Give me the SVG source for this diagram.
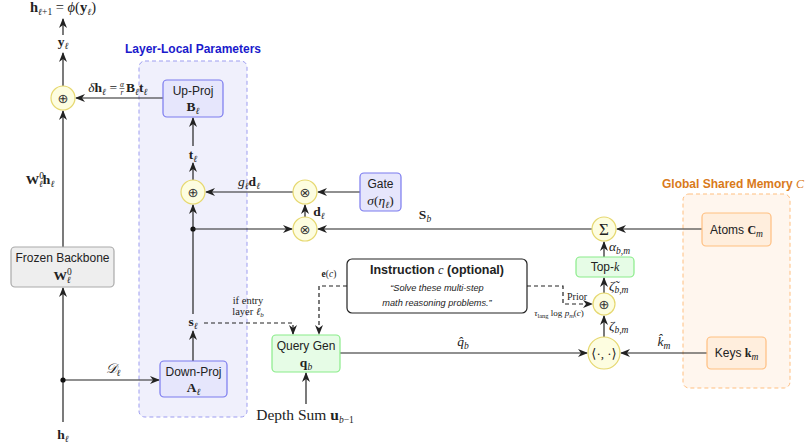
<svg xmlns="http://www.w3.org/2000/svg" width="809" height="446" viewBox="0 0 809 446">
<style>
.sans{font-family:"Liberation Sans","DejaVu Sans",sans-serif;font-size:12px;fill:#222}
.math{font-family:"Liberation Serif","DejaVu Serif",serif;font-size:13.5px;fill:#222}
.s{font-size:9.5px}
.b{font-weight:bold}
.i{font-style:italic}
.ln{stroke:#222;stroke-width:1.2;fill:none}
.dash{stroke:#222;stroke-width:1.2;fill:none;stroke-dasharray:4,3}
.blue{fill:#e6e6fc;stroke:#7a7aee;stroke-width:1.2}
.green{fill:#e6fce6;stroke:#8aec8a;stroke-width:1.2}
.orange{fill:#ffeedd;stroke:#ffbf80;stroke-width:1.2}
.gray{fill:#eeeeee;stroke:#aaaaaa;stroke-width:1.2}
.op{fill:#fdfde0;stroke:#e6d870;stroke-width:1.2}
.sym{font-family:"DejaVu Sans",sans-serif;font-size:13px;fill:#333}
</style>
<defs>
<marker id="ar" viewBox="0 0 10 8" refX="9" refY="4" markerWidth="10" markerHeight="8" markerUnits="userSpaceOnUse" orient="auto">
<path d="M0,0 L10,4 L0,8 L3,4 z" fill="#222"/>
</marker>
</defs>

<!-- panels -->
<g id="panel-local">
<rect x="139" y="61" width="108" height="356" rx="6" fill="#f0f0fc" stroke="#9d9df0" stroke-width="1" stroke-dasharray="4,3"/>
<text x="193" y="53" text-anchor="middle" class="sans b" style="fill:#1a1acc">Layer-Local Parameters</text>
</g>
<g id="panel-global">
<rect x="683" y="194" width="107" height="194" rx="6" fill="#fff6ee" stroke="#ffbf80" stroke-width="1" stroke-dasharray="4,3"/>
<text x="662" y="188" class="sans b" style="fill:#d97a1a">Global Shared Memory <tspan class="i" style="font-weight:normal;font-family:'Liberation Serif',serif">C</tspan></text>
</g>

<!-- connectors -->
<g id="connectors">
<line x1="63" y1="422" x2="63" y2="380" class="ln"/>
<line x1="63" y1="380" x2="63" y2="288" class="ln" marker-end="url(#ar)"/>
<line x1="63" y1="247" x2="63" y2="111" class="ln" marker-end="url(#ar)"/>
<line x1="63" y1="86" x2="63" y2="53" class="ln" marker-end="url(#ar)"/>
<line x1="63" y1="35" x2="63" y2="19" class="ln" marker-end="url(#ar)"/>
<line x1="63" y1="380" x2="159" y2="380" class="ln" marker-end="url(#ar)"/>
<circle cx="63" cy="380" r="2.6" fill="#111"/>
<line x1="163" y1="98" x2="76" y2="98" class="ln" marker-end="url(#ar)"/>
<line x1="193" y1="361" x2="193" y2="331" class="ln" marker-end="url(#ar)"/>
<line x1="193" y1="314" x2="193" y2="205" class="ln" marker-end="url(#ar)"/>
<line x1="193" y1="180" x2="193" y2="163" class="ln" marker-end="url(#ar)"/>
<line x1="193" y1="146" x2="193" y2="118" class="ln" marker-end="url(#ar)"/>
<circle cx="193" cy="229" r="2.6" fill="#111"/>
<line x1="193" y1="229" x2="292" y2="229" class="ln" marker-end="url(#ar)"/>
<line x1="293" y1="192" x2="206" y2="192" class="ln" marker-end="url(#ar)"/>
<line x1="360" y1="192" x2="318" y2="192" class="ln" marker-end="url(#ar)"/>
<line x1="305" y1="217" x2="305" y2="205" class="ln" marker-end="url(#ar)"/>
<line x1="592" y1="229" x2="318" y2="229" class="ln" marker-end="url(#ar)"/>
<line x1="702" y1="229" x2="617" y2="229" class="ln" marker-end="url(#ar)"/>
<line x1="604" y1="257" x2="604" y2="242" class="ln" marker-end="url(#ar)"/>
<line x1="604" y1="293" x2="604" y2="278" class="ln" marker-end="url(#ar)"/>
<line x1="604" y1="337" x2="604" y2="316" class="ln" marker-end="url(#ar)"/>
<line x1="707" y1="353" x2="621" y2="353" class="ln" marker-end="url(#ar)"/>
<line x1="340" y1="353" x2="587" y2="353" class="ln" marker-end="url(#ar)"/>
<line x1="306" y1="404" x2="306" y2="373" class="ln" marker-end="url(#ar)"/>
<polyline points="204,323 293,323 293,334" class="dash" marker-end="url(#ar)"/>
<polyline points="347,286 319,286 319,334" class="dash" marker-end="url(#ar)"/>
<polyline points="527,286 563,286 563,304 592,304" class="dash" marker-end="url(#ar)"/>
</g>

<!-- labels -->
<g id="labels">
<text x="63" y="12" text-anchor="middle" class="math" style="font-size:14.5px"><tspan class="b">h</tspan><tspan class="s i" dy="3">ℓ</tspan><tspan class="s">+1</tspan><tspan dy="-3"> = </tspan><tspan class="i">ϕ</tspan>(<tspan class="b">y</tspan><tspan class="s i" dy="3">ℓ</tspan><tspan dy="-3">)</tspan></text>
<text x="63" y="46" text-anchor="middle" class="math"><tspan class="b">y</tspan><tspan class="s i" dy="3">ℓ</tspan></text>
<text x="117" y="92" text-anchor="end" class="math"><tspan class="i">δ</tspan><tspan class="b">h</tspan><tspan class="s i" dy="3">ℓ</tspan><tspan dy="-3"> =</tspan></text>
<text x="122" y="86.5" text-anchor="middle" class="math i" style="font-size:7.5px">α</text>
<line x1="119.5" y1="88.5" x2="124.5" y2="88.5" stroke="#222" stroke-width="0.6"/>
<text x="122" y="95" text-anchor="middle" class="math i" style="font-size:7.5px">r</text>
<text x="126" y="92" class="math"><tspan class="b">B</tspan><tspan class="s i" dy="3">ℓ</tspan><tspan dy="-3" class="b">t</tspan><tspan class="s i" dy="3">ℓ</tspan></text>
<text x="40" y="184" text-anchor="middle" class="math"><tspan class="b">W</tspan><tspan class="s" dy="-5">0</tspan><tspan class="s i" dx="-5" dy="8">ℓ</tspan><tspan dy="-3" class="b">h</tspan><tspan class="s i" dy="3">ℓ</tspan></text>
<text x="193" y="159" text-anchor="middle" class="math"><tspan class="b">t</tspan><tspan class="s i" dy="3">ℓ</tspan></text>
<text x="249" y="186" text-anchor="middle" class="math"><tspan class="i">g</tspan><tspan class="s i" dy="3">ℓ</tspan><tspan dy="-3" class="b">d</tspan><tspan class="s i" dy="3">ℓ</tspan></text>
<text x="319" y="216" text-anchor="middle" class="math"><tspan class="b">d</tspan><tspan class="s i" dy="3">ℓ</tspan></text>
<text x="425" y="219" text-anchor="middle" class="math"><tspan class="b">S</tspan><tspan class="s i" dy="3">b</tspan></text>
<text x="193" y="326" text-anchor="middle" class="math"><tspan class="b">s</tspan><tspan class="s i" dy="3">ℓ</tspan></text>
<text x="248" y="304" text-anchor="middle" class="math" style="font-size:10.5px">if entry</text>
<text x="248" y="315" text-anchor="middle" class="math" style="font-size:10.5px">layer <tspan class="i">ℓ</tspan><tspan class="i" style="font-size:7px" dy="2">b</tspan></text>
<text x="113" y="373" text-anchor="middle" class="math"><tspan class="i">𝒟</tspan><tspan class="s i" dy="3">ℓ</tspan></text>
<text x="63" y="439" text-anchor="middle" class="math"><tspan class="b">h</tspan><tspan class="s i" dy="3">ℓ</tspan></text>
<text x="329" y="277" text-anchor="middle" class="math" style="font-size:9.5px"><tspan class="b">e</tspan>(<tspan class="i">c</tspan>)</text>
<text x="305" y="420" text-anchor="middle" class="math" style="font-size:15.5px">Depth Sum <tspan class="b">u</tspan><tspan class="s i" dy="3">b</tspan><tspan class="s">−1</tspan></text>
<text x="463" y="346" text-anchor="middle" class="math"><tspan class="i">q̂</tspan><tspan class="s i" dy="3">b</tspan></text>
<text x="664" y="346" text-anchor="middle" class="math"><tspan class="i">k̂</tspan><tspan class="s i" dy="3">m</tspan></text>
<text x="609" y="251" class="math"><tspan class="i">α</tspan><tspan class="s i" dy="3">b,m</tspan></text>
<text x="609" y="290" class="math"><tspan class="i">ζ̃</tspan><tspan class="s i" dy="3">b,m</tspan></text>
<text x="609" y="330" class="math"><tspan class="i">ζ</tspan><tspan class="s i" dy="3">b,m</tspan></text>
<text x="567" y="300" class="math" style="font-size:10px">Prior</text>
<text x="559" y="316" text-anchor="middle" class="math" style="font-size:9px"><tspan class="i">τ</tspan><tspan dy="1.5" style="font-size:6.5px">lang</tspan><tspan dy="-1.5"> log </tspan><tspan class="i">p</tspan><tspan dy="1.5" style="font-size:6.5px" class="i">m</tspan><tspan dy="-1.5">(</tspan><tspan class="i">c</tspan>)</text>
</g>

<!-- nodes -->
<g id="frozen">
<rect x="11" y="247" width="103" height="40" rx="4" class="gray"/>
<text x="62.5" y="262" text-anchor="middle" class="sans">Frozen Backbone</text>
<text x="62.5" y="280" text-anchor="middle" class="math"><tspan class="b">W</tspan><tspan class="s" dy="-5">0</tspan><tspan class="s i" dx="-5" dy="8">ℓ</tspan></text>
</g>
<g id="add-out">
<circle cx="63" cy="98" r="12" class="op"/>
<text x="63" y="103" text-anchor="middle" class="sym">⊕</text>
</g>
<g id="up-proj">
<rect x="163" y="80" width="60" height="37" rx="4" class="blue"/>
<text x="193" y="95" text-anchor="middle" class="sans">Up-Proj</text>
<text x="193" y="111" text-anchor="middle" class="math"><tspan class="b">B</tspan><tspan class="s i" dy="3">ℓ</tspan></text>
</g>
<g id="add-local">
<circle cx="193" cy="192" r="12" class="op"/>
<text x="193" y="197" text-anchor="middle" class="sym">⊕</text>
</g>
<g id="down-proj">
<rect x="160" y="361" width="67" height="36" rx="4" class="blue"/>
<text x="193.5" y="376" text-anchor="middle" class="sans">Down-Proj</text>
<text x="193.5" y="392" text-anchor="middle" class="math"><tspan class="b">A</tspan><tspan class="s i" dy="3">ℓ</tspan></text>
</g>
<g id="mul-gate">
<circle cx="305" cy="192" r="12" class="op"/>
<text x="305" y="197" text-anchor="middle" class="sym">⊗</text>
</g>
<g id="mul-s">
<circle cx="305" cy="229" r="12" class="op"/>
<text x="305" y="234" text-anchor="middle" class="sym">⊗</text>
</g>
<g id="gate">
<rect x="360" y="173" width="41" height="38" rx="4" class="blue"/>
<text x="380.5" y="188" text-anchor="middle" class="sans">Gate</text>
<text x="380.5" y="205" text-anchor="middle" class="math"><tspan class="i">σ</tspan>(<tspan class="i">η</tspan><tspan class="s i" dy="3">ℓ</tspan><tspan dy="-3">)</tspan></text>
</g>
<g id="instruction">
<rect x="347" y="259" width="180" height="54" rx="5" fill="#ffffff" stroke="#222" stroke-width="1.2"/>
<text x="437" y="274" text-anchor="middle" class="sans b" style="font-size:12.5px">Instruction <tspan class="i" style="font-weight:normal;font-family:'Liberation Serif',serif">c</tspan> (optional)</text>
<text x="437" y="291" text-anchor="middle" class="sans i" style="font-size:9.2px">“Solve these multi-step</text>
<text x="437" y="306" text-anchor="middle" class="sans i" style="font-size:9.2px">math reasoning problems.”</text>
</g>
<g id="query-gen">
<rect x="272" y="335" width="68" height="37" rx="4" class="green"/>
<text x="306" y="350" text-anchor="middle" class="sans">Query Gen</text>
<text x="306" y="367" text-anchor="middle" class="math"><tspan class="b">q</tspan><tspan class="s i" dy="3">b</tspan></text>
</g>
<g id="sum">
<circle cx="604" cy="229" r="12" class="op"/>
<text x="604" y="235" text-anchor="middle" class="math" style="font-size:17px">Σ</text>
</g>
<g id="topk">
<rect x="576" y="257" width="58" height="20" rx="4" class="green"/>
<text x="605" y="271" text-anchor="middle" class="sans">Top-<tspan class="i" style="font-family:'Liberation Serif',serif">k</tspan></text>
</g>
<g id="add-prior">
<circle cx="604" cy="304" r="11" class="op"/>
<text x="604" y="309" text-anchor="middle" class="sym">⊕</text>
</g>
<g id="dot-prod">
<circle cx="604" cy="353" r="16" class="op"/>
<text x="604" y="358" text-anchor="middle" class="math" style="font-size:13px">⟨·, ·⟩</text>
</g>
<g id="atoms">
<rect x="702" y="213" width="69" height="33" rx="4" class="orange"/>
<text x="736.5" y="234" text-anchor="middle" class="sans">Atoms <tspan class="b" style="font-family:'Liberation Serif',serif">C</tspan><tspan class="s i" dy="3" style="font-family:'Liberation Serif',serif">m</tspan></text>
</g>
<g id="keys">
<rect x="707" y="337" width="59" height="32" rx="4" class="orange"/>
<text x="736.5" y="357" text-anchor="middle" class="sans">Keys <tspan class="b" style="font-family:'Liberation Serif',serif">k</tspan><tspan class="s i" dy="3" style="font-family:'Liberation Serif',serif">m</tspan></text>
</g>
</svg>
